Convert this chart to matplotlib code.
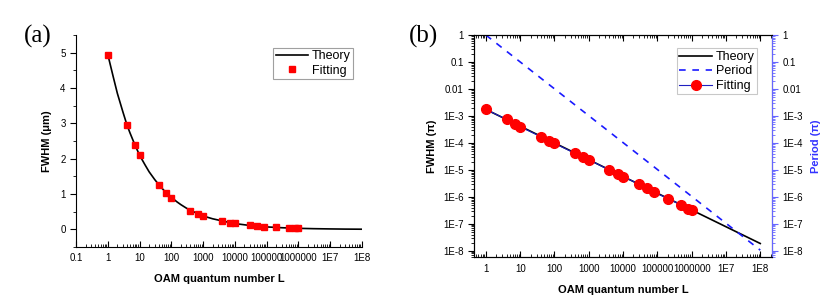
import numpy as np
import matplotlib.pyplot as plt
from matplotlib.ticker import FixedLocator, LogLocator, NullFormatter, MultipleLocator

# Datos
L_fit = [1, 4, 7, 10, 40, 70, 100, 400, 700, 1000, 4000, 7000, 10000,
         30000, 50000, 80000, 200000, 500000, 800000, 1000000]
fwhm_um = [4.95, 2.95, 2.4, 2.1, 1.26, 1.02, 0.9, 0.53, 0.44, 0.38, 0.23,
           0.19, 0.17, 0.11, 0.1, 0.08, 0.06, 0.04, 0.03, 0.03]
L_theory_a = [1, 1.5, 2, 3, 4, 5, 7, 10, 15, 20, 30, 40, 50, 70, 100, 150, 200,
              300, 500, 700, 1000, 2000, 5000, 1e4, 3e4, 1e5, 3e5, 1e6, 3e6,
              1e7, 3e7, 1e8]
theory_a = [4.95, 4.3, 3.85, 3.32, 2.96, 2.73, 2.41, 2.1, 1.82, 1.63, 1.41, 1.27,
            1.17, 1.03, 0.91, 0.78, 0.70, 0.60, 0.50, 0.44, 0.38, 0.30, 0.22,
            0.165, 0.11, 0.07, 0.047, 0.03, 0.02, 0.013, 0.008, 0.005]

fwhm_pi = [1.75e-3, 7.5e-4, 5.0e-4, 4.0e-4, 1.7e-4, 1.2e-4, 9.6e-5, 4.1e-5,
           3.1e-5, 2.4e-5, 9.8e-6, 7.0e-6, 5.7e-6, 2.9e-6, 2.1e-6, 1.5e-6,
           8.7e-7, 5.0e-7, 3.6e-7, 3.3e-7]
L_theory_b = [1, 1e8]
theory_b = [1.75e-3, 1.87e-8]
L_period = [1, 1e8]
period = [1.0, 1.06e-8]

xticks_a = [0.1, 1, 10, 100, 1000, 10000, 100000, 1000000, 1e7, 1e8]
xlabels_a = ['0.1', '1', '10', '100', '1000', '10000', '100000', '1000000', '1E7', '1E8']
yticks_b = [1, 0.1, 0.01, 1e-3, 1e-4, 1e-5, 1e-6, 1e-7, 1e-8]
ylabels_b = ['1', '0.1', '0.01', '1E-3', '1E-4', '1E-5', '1E-6', '1E-7', '1E-8']

plt.rcParams['font.family'] = ['Liberation Sans', 'DejaVu Sans']
plt.rcParams['axes.linewidth'] = 0.8

fig = plt.figure(figsize=(8.31, 3.05), dpi=100)

# ---- (a)
ax1 = fig.add_axes([0.0915, 0.19, 0.344, 0.695])
ax1.plot(L_theory_a, theory_a, color='black', lw=1.2, label='Theory')
ax1.plot(L_fit, fwhm_um, 's', color='red', ms=4, label='Fitting')
ax1.set_xscale('log')
ax1.set_xlim(0.1, 1e8)
ax1.set_ylim(-0.5, 5.5)
ax1.xaxis.set_major_locator(FixedLocator(xticks_a))
ax1.set_xticklabels(xlabels_a)
ax1.xaxis.set_minor_locator(LogLocator(base=10, subs=np.arange(2, 10), numticks=20))
ax1.xaxis.set_minor_formatter(NullFormatter())
ax1.yaxis.set_major_locator(FixedLocator([0, 1, 2, 3, 4, 5]))
ax1.yaxis.set_minor_locator(MultipleLocator(0.5))
ax1.spines['top'].set_visible(False)
ax1.spines['right'].set_visible(False)
ax1.tick_params(axis='x', which='both', direction='in', labelsize=7, pad=4)
ax1.tick_params(axis='x', which='major', length=4)
ax1.tick_params(axis='x', which='minor', length=2)
ax1.tick_params(axis='y', which='both', direction='out', labelsize=7)
ax1.tick_params(axis='y', which='major', length=4)
ax1.tick_params(axis='y', which='minor', length=2)
ax1.set_xlabel('OAM quantum number L', fontsize=8, fontweight='bold', labelpad=8)
ax1.set_ylabel('FWHM (\u03bcm)', fontsize=8, fontweight='bold', labelpad=6)
leg = ax1.legend(loc='upper right', bbox_to_anchor=(0.97, 0.94), fontsize=9,
                 frameon=True, fancybox=False, handlelength=2.6, handletextpad=0.3,
                 borderpad=0.2, labelspacing=0.2, borderaxespad=0)
leg.get_frame().set_edgecolor('#888888')
leg.get_frame().set_linewidth(0.8)
fig.text(0.045, 0.88, '(a)', fontsize=18, family='Liberation Serif', ha='center', va='center')

# ---- (b)
ax2 = fig.add_axes([0.5704, 0.158, 0.3586, 0.727])
lt, = ax2.plot(L_theory_b, theory_b, color='black', lw=1.2, label='Theory')
lf, = ax2.plot(L_fit, fwhm_pi, '-o', color='#2020c0', lw=0.8, mfc='red', mec='red',
               ms=7, label='Fitting')
ax2.set_xscale('log')
ax2.set_yscale('log')
ax2.set_xlim(0.45, 2.2e8)
ax2.set_ylim(6e-9, 1)
ax2.xaxis.set_major_locator(FixedLocator(xticks_a[1:]))
ax2.set_xticklabels(xlabels_a[1:])
ax2.xaxis.set_minor_locator(LogLocator(base=10, subs=np.arange(2, 10), numticks=20))
ax2.xaxis.set_minor_formatter(NullFormatter())
ax2.yaxis.set_major_locator(FixedLocator(yticks_b))
ax2.set_yticklabels(ylabels_b)
ax2.yaxis.set_minor_locator(LogLocator(base=10, subs=np.arange(2, 10), numticks=20))
ax2.yaxis.set_minor_formatter(NullFormatter())
ax2.tick_params(axis='x', which='both', direction='in', top=True, labelsize=7, pad=5)
ax2.tick_params(axis='x', which='major', length=4)
ax2.tick_params(axis='x', which='minor', length=2)
ax2.tick_params(axis='y', which='both', direction='out', labelsize=7)
ax2.tick_params(axis='y', which='major', length=4)
ax2.tick_params(axis='y', which='minor', length=2)
ax2.set_xlabel('OAM quantum number L', fontsize=8, fontweight='bold', labelpad=8)
ax2.set_ylabel('FWHM (\u03c0)', fontsize=8, fontweight='bold', labelpad=4)

ax3 = ax2.twinx()
lp, = ax3.plot(L_period, period, '--', color='#1a1aff', lw=1.2, dashes=(4, 4), label='Period')
ax3.set_yscale('log')
ax3.set_ylim(6e-9, 1)
ax3.yaxis.set_major_locator(FixedLocator(yticks_b))
ax3.set_yticklabels(ylabels_b)
ax3.yaxis.set_minor_locator(LogLocator(base=10, subs=np.arange(2, 10), numticks=20))
ax3.yaxis.set_minor_formatter(NullFormatter())
ax3.spines['right'].set_color('#6666ff')
ax3.tick_params(axis='y', which='both', direction='out', colors='#6666ff', labelsize=7)
for t in ax3.get_yticklabels():
    t.set_color('black')
ax3.tick_params(axis='y', which='major', length=4)
ax3.tick_params(axis='y', which='minor', length=2)
ax3.set_ylabel('Period (\u03c0)', fontsize=8, fontweight='bold', color='#3333ff', labelpad=6)

leg2 = ax3.legend([lt, lp, lf], ['Theory', 'Period', 'Fitting'], loc='upper right',
                  bbox_to_anchor=(0.95, 0.94), fontsize=9, frameon=True, fancybox=False,
                  handlelength=2.6, handletextpad=0.3, borderpad=0.2, labelspacing=0.2,
                  borderaxespad=0)
leg2.get_frame().set_edgecolor('#bbbbbb')
leg2.get_frame().set_linewidth(0.8)
fig.text(0.51, 0.88, '(b)', fontsize=18, family='Liberation Serif', ha='center', va='center')

fig.savefig('out.png', dpi=100)
